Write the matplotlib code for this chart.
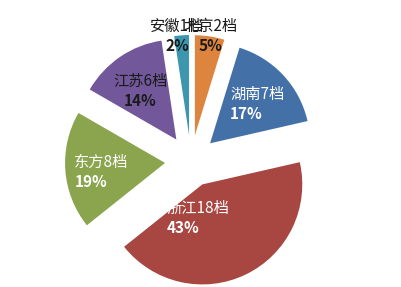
import numpy as np
import matplotlib.pyplot as plt

plt.rcParams['font.family'] = ['Noto Sans CJK SC', 'DejaVu Sans']

# 各地档位数量（从12点方向顺时针）
names = ['北京', '湖南', '浙江', '东方', '江苏', '安徽']
counts = [2, 7, 18, 8, 6, 1]
colors = ['#DD853F', '#4470A8', '#A84642', '#8AA54E', '#72589A', '#3C97AE']
text_colors = ['#1a1a1a', 'white', 'white', 'white', '#1a1a1a', '#1a1a1a']
# 标签相对扇区中心的位置：半径倍数、顺时针角度（None 表示取扇区中线）
label_r = [1.04, 0.64, 0.31, 0.64, 0.64, 1.04]
label_ang = [None, None, 196.5, None, None, -6.6]
label_align = ['center', 'left', 'left', 'left', 'center', 'center']

fig = plt.figure(figsize=(4.02, 2.87), dpi=100)
ax = fig.add_axes([0, 0, 1, 1])

R = 100
wedges, _ = ax.pie(counts, colors=colors, radius=R, center=(191, 126),
                   explode=[26] * len(counts), startangle=90, counterclock=False,
                   wedgeprops=dict(linewidth=0), frame=True)
ax.set_xlim(0, 402)
ax.set_ylim(0, 287)
ax.set_aspect('equal')
ax.axis('off')

total = sum(counts)
for w, n, c, tc, r, a, al in zip(wedges, names, counts, text_colors,
                                  label_r, label_ang, label_align):
    mid = np.deg2rad((w.theta1 + w.theta2) / 2)
    if a is not None:
        mid = np.deg2rad(90 - a)
    cx, cy = w.center
    x = cx + r * R * np.cos(mid)
    y = cy + r * R * np.sin(mid)
    if al == 'left':
        # 左对齐的标签以文字块宽度估算左边缘
        x -= 27
    ax.text(x, y + 5.5, f'{n}{c}档', color=tc, fontsize=11,
            ha=al, va='center')
    ax.text(x, y - 14, f'{c / total:.0%}', color=tc, fontsize=11,
            fontweight='bold', ha=al, va='center')

fig.savefig('out.png', dpi=100)
